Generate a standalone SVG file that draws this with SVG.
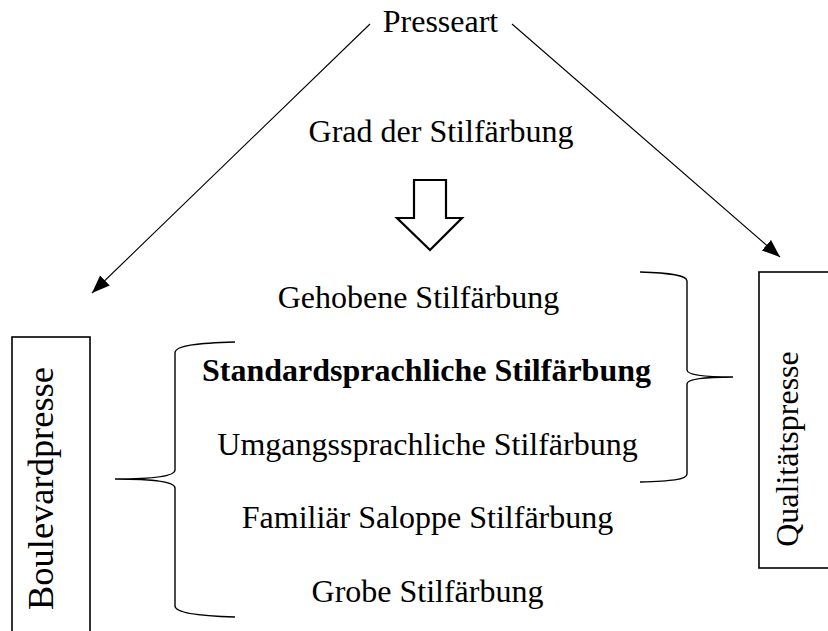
<svg xmlns="http://www.w3.org/2000/svg" width="828" height="631" viewBox="0 0 828 631">
<style>
text{font-family:"Liberation Serif","Times New Roman",serif;fill:#000}
.t{font-size:32px;text-anchor:middle}
.b{font-weight:bold}
.ln{stroke:#000;stroke-width:1.1;fill:none}
.box{stroke:#000;stroke-width:1.6;fill:#fff}
.br{stroke:#000;stroke-width:1.4;fill:none}
</style>
<defs>
<marker id="ah" markerUnits="userSpaceOnUse" markerWidth="20" markerHeight="14" refX="18" refY="7" orient="auto">
<path d="M0,0 L18,7 L0,14 Z" fill="#000"/>
</marker>
</defs>
<rect width="828" height="631" fill="#fff"/>
<g id="connectors">
<line class="ln" x1="370" y1="24" x2="92" y2="293" marker-end="url(#ah)"/>
<line class="ln" x1="512" y1="24" x2="780" y2="257" marker-end="url(#ah)"/>
<polygon points="414,180 446,180 446,218 462,218 430,250 397,218 414,218" fill="#fff" stroke="#000" stroke-width="2.2" stroke-linejoin="miter"/>
<path class="br" d="M235,342 C200,343 175,345 175,353 L175,470 C175,476 155,479 115,479 C155,479 175,482 175,488 L175,606 C175,613 200,616 235,617"/>
<path class="br" d="M640,272 C670,273 687,275 687,281 L687,370 C687,375 705,377 733,377 C705,377 687,379 687,384 L687,474 C687,480 670,481 640,482"/>
</g>
<g id="presseart"><text class="t" x="440.5" y="32">Presseart</text></g>
<g id="grad"><text class="t" x="441" y="142">Grad der Stilfärbung</text></g>
<g id="gehobene"><text class="t" x="418.5" y="308">Gehobene Stilfärbung</text></g>
<g id="standard"><text class="t b" x="426.5" y="381">Standardsprachliche Stilfärbung</text></g>
<g id="umgangs"><text class="t" x="427.5" y="455">Umgangssprachliche Stilfärbung</text></g>
<g id="familiaer"><text class="t" x="427.5" y="528">Familiär Saloppe Stilfärbung</text></g>
<g id="grobe"><text class="t" x="427.5" y="602">Grobe Stilfärbung</text></g>
<g id="boulevardpresse">
<rect class="box" x="12" y="337" width="78" height="310"/>
<text transform="translate(53,488.5) rotate(-90)" style="font-size:35px;text-anchor:middle" textLength="243" lengthAdjust="spacingAndGlyphs">Boulevardpresse</text>
</g>
<g id="qualitaetspresse">
<rect class="box" x="759" y="272" width="90" height="296"/>
<text transform="translate(798,449) rotate(-90)" style="font-size:32px;text-anchor:middle">Qualitätspresse</text>
</g>
</svg>
